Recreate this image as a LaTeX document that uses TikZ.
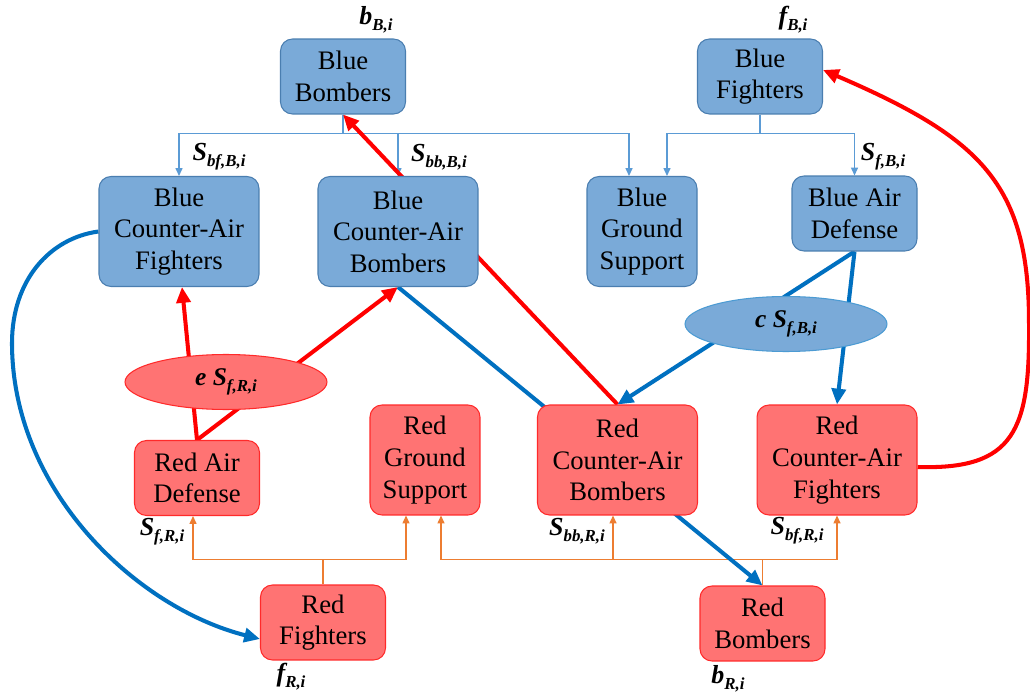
\documentclass[tikz,border=0pt]{standalone}
\usepackage{fontspec}
\setmainfont{Liberation Serif}
\usetikzlibrary{arrows.meta,shapes.geometric}

\pgfdeclarelayer{back}
\pgfdeclarelayer{links}
\pgfsetlayers{back,links,main}

\definecolor{bluefill}{HTML}{7AAAD8}
\definecolor{blueedge}{HTML}{4A7EB0}
\definecolor{redfill}{HTML}{FF7373}
\definecolor{rededge}{HTML}{FF2A2A}
\definecolor{attackblue}{HTML}{0070C0}
\definecolor{attackred}{HTML}{FF0000}
\definecolor{feedblue}{HTML}{5B9BD5}
\definecolor{feedorange}{HTML}{ED7D31}

% bold italic variable with a lowered subscript
\newcommand\varlbl[2]{{\bfseries\itshape #1\raisebox{-0.5ex}{\fontsize{9.6}{10}\selectfont #2}}}

\begin{document}
\begin{tikzpicture}[x=0.02cm, y=-0.02cm,
  unitbox/.style={rounded corners=0.24cm, line width=0.6pt, align=center,
    inner sep=0pt, font=\fontsize{15.2}{18}\selectfont},
  bluebox/.style={unitbox, fill=bluefill, draw=blueedge},
  redbox/.style={unitbox, fill=redfill, draw=rededge},
  short/.style={minimum width=2.5cm, minimum height=1.5cm},
  tall/.style={minimum width=3.2cm, minimum height=2.2cm},
  narrow/.style={minimum width=2.2cm, minimum height=2.2cm},
  pool/.style={ellipse, minimum width=4.04cm, minimum height=1.1cm, inner sep=0pt,
    line width=0.6pt, font=\fontsize{14.5}{16}\selectfont},
  varnode/.style={inner sep=0pt, font=\fontsize{14.8}{16}\selectfont},
  attack/.style={line width=2.3pt, -{Triangle[length=9pt,width=8pt]}},
  feed/.style={line width=0.7pt, -{Triangle[length=4.5pt,width=4pt]}}
]
\useasboundingbox (0,0) rectangle (1030,692);
\begin{pgfonlayer}{back}
  \fill[white] (0,0) rectangle (1030,692);
\end{pgfonlayer}

% Blue side
\node[bluebox, short] (bb)   at (343,76.5)  {Blue\\Bombers};
\node[bluebox, short] (bf)   at (760,76.5)  {Blue\\Fighters};
\node[bluebox, tall]  (bcaf) at (179,231.5) {Blue\\Counter-Air\\Fighters};
\node[bluebox, tall]  (bcab) at (398,231.5) {Blue\\Counter-Air\\Bombers};
\node[bluebox, narrow](bgs)  at (642,231.5) {Blue\\Ground\\Support};
\node[bluebox, short] (bad)  at (854.5,213.5) {Blue Air\\Defense};

% Red side
\node[redbox, short]  (rad)  at (197,478)   {Red Air\\Defense};
\node[redbox, narrow] (rgs)  at (425,460)   {Red\\Ground\\Support};
\node[redbox, tall]   (rcab) at (617.5,460) {Red\\Counter-Air\\Bombers};
\node[redbox, tall]   (rcaf) at (837,460)   {Red\\Counter-Air\\Fighters};
\node[redbox, short]  (rf)   at (323,622.5) {Red\\Fighters};
\node[redbox, short]  (rb)   at (762.5,623.5) {Red\\Bombers};

% Air-defense pools
\node[pool, fill=bluefill, draw=attackblue!70] (cpool) at (786,324) {{\bfseries\itshape c} \varlbl{S}{f,B,i}};
\node[pool, fill=redfill, draw=rededge] (epool) at (226,382) {{\bfseries\itshape e} \varlbl{S}{f,R,i}};

% Variable labels
\node[varnode] (lbb)   at (376,20)  {\varlbl{b}{B,i}};
\node[varnode] (lbf)   at (793,20)  {\varlbl{f}{B,i}};
\node[varnode] (lsbfb) at (219,157) {\varlbl{S}{bf,B,i}};
\node[varnode] (lsbbb) at (439,157) {\varlbl{S}{bb,B,i}};
\node[varnode] (lsfb)  at (883,157) {\varlbl{S}{f,B,i}};
\node[varnode] (lsfr)  at (162,532) {\varlbl{S}{f,R,i}};
\node[varnode] (lsbbr) at (577,531) {\varlbl{S}{bb,R,i}};
\node[varnode] (lsbfr) at (797,531) {\varlbl{S}{bf,R,i}};
\node[varnode] (lfr)   at (291,677) {\varlbl{f}{R,i}};
\node[varnode] (lbr)   at (728,679) {\varlbl{b}{R,i}};

\begin{pgfonlayer}{links}
  % Blue allocation lines
  \draw[feedblue, line width=0.7pt] (bb.south) -- ++(0,19) coordinate (bbj);
  \draw[feedblue, feed] (bbj) -| (bcaf.north);
  \draw[feedblue, feed] (bbj) -| (bcab.north);
  \draw[feedblue, feed] (bbj) -| ([xshift=-0.26cm]bgs.north);
  \draw[feedblue, line width=0.7pt] (bf.south) -- ++(0,19) coordinate (bfj);
  \draw[feedblue, feed] (bfj) -| ([xshift=0.5cm]bgs.north);
  \draw[feedblue, feed] (bfj) -| (bad.north);

  % Red allocation lines
  \draw[feedorange, line width=0.7pt] (rf.north) -- ++(0,-25) coordinate (rfj);
  \draw[feedorange, feed] (rfj) -| ([xshift=-0.08cm]rad.south);
  \draw[feedorange, feed] (rfj) -| ([xshift=-0.38cm]rgs.south);
  \draw[feedorange, line width=0.7pt] (rb.north) -- ++(0,-26) coordinate (rbj);
  \draw[feedorange, feed] (rbj) -| ([xshift=0.32cm]rgs.south);
  \draw[feedorange, feed] (rbj) -| ([xshift=-0.09cm]rcab.south);
  \draw[feedorange, feed] (rbj) -| (rcaf.south);

  % Red attacks
  \draw[attackred, attack] (rad.north) -- ([xshift=0.06cm]bcaf.south);
  \draw[attackred, attack] (rad.north) -- (bcab.south);
  \draw[attackred, attack] (rcab.north) -- (bb.south);
  \draw[attackred, attack] ([yshift=-0.14cm]rcaf.east)
     .. controls (1015,470) and (1030,430) .. (1029,323)
     .. controls (1029,184) and (981,138) .. ([yshift=0.13cm]bf.east);

  % Blue attacks
  \draw[attackblue, attack] (bad.south) -- (rcab.north);
  \draw[attackblue, attack] (bad.south) -- (rcaf.north);
  \draw[attackblue, attack] (bcab.south) -- (rb.north);
  \draw[attackblue, attack] (bcaf.west)
     .. controls (50,238) and (12,280) .. (12,343)
     .. controls (12,491) and (137,608) .. ([yshift=-0.33cm]rf.west);
\end{pgfonlayer}
\end{tikzpicture}
\end{document}
